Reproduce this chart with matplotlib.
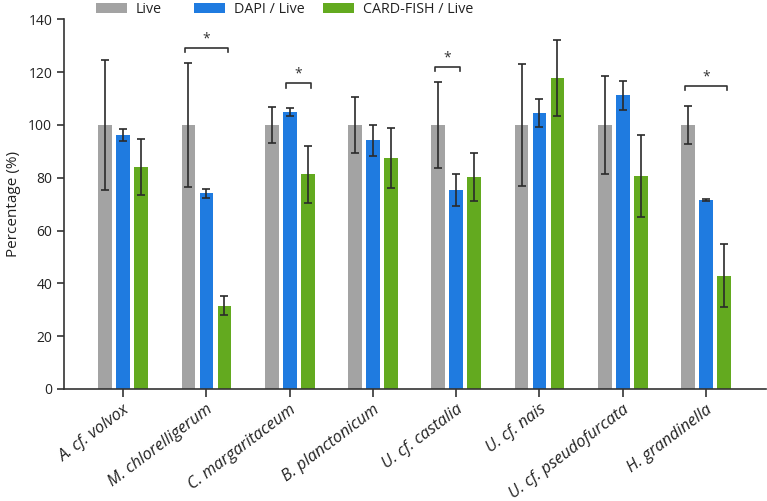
import matplotlib
matplotlib.use("Agg")
import matplotlib.pyplot as plt
import numpy as np

plt.rcParams['font.family'] = ['Open Sans', 'DejaVu Sans']

categories = ["A. cf. volvox", "M. chlorelligerum", "C. margaritaceum", "B. planctonicum",
              "U. cf. castalia", "U. cf. nais", "U. cf. pseudofurcata", "H. grandinella"]
series_names = ["Live", "DAPI / Live", "CARD-FISH / Live"]
live = [100, 100, 100, 100, 100, 100, 100, 100]
live_err = [24.7, 23.5, 7.0, 10.7, 16.2, 23.0, 18.6, 7.3]
dapi = [96.3, 74.1, 104.9, 94.2, 75.4, 104.4, 111.2, 71.6]
dapi_err = [2.2, 1.8, 1.6, 5.8, 5.9, 5.3, 5.4, 0.5]
fish = [84.0, 31.6, 81.4, 87.6, 80.4, 117.8, 80.8, 42.9]
fish_err = [10.7, 3.5, 10.8, 11.4, 9.0, 14.4, 15.6, 12.0]
# significance brackets: (group index, first series, second series, bracket height)
sig = [(1, 0, 2, 129.3), (2, 1, 2, 115.8), (4, 0, 1, 122.1), (7, 0, 2, 114.9)]
yticks = [0, 20, 40, 60, 80, 100, 120, 140]

colors = ['#a3a3a3', '#1f7be0', '#63aa1f']
W, H = 767, 501
fig = plt.figure(figsize=(W / 100, H / 100), dpi=100)
ax = fig.add_axes([64 / W, 1 - 389 / H, (766 - 64) / W, (389 - 19.4) / H])

x = np.arange(len(categories))
offs = [-0.216, 0.0, 0.216]
bw = 0.165
ekw = dict(ecolor='#2a2a2a', elinewidth=1.2, capthick=1.2)
handles = []
for vals, errs, off, c, name in zip([live, dapi, fish], [live_err, dapi_err, fish_err], offs, colors, series_names):
    b = ax.bar(x + off, vals, width=bw, color=c, yerr=errs, capsize=3, error_kw=ekw, label=name, zorder=2)
    handles.append(b)

for g, s1, s2, h in sig:
    x1 = g + offs[s1] - 0.04
    x2 = g + offs[s2] + 0.04
    ax.plot([x1, x1, x2, x2], [h - 1.8, h, h, h - 1.8], color='#333333', lw=1.2, zorder=3)
    ax.text((x1 + x2) / 2, h + 0.6, '*', ha='center', va='bottom', fontsize=10, color='#333333')

ax.set_xlim(-0.71, 7.72)
ax.set_ylim(0, 140)
ax.set_yticks(yticks)
ax.set_xticks(x)
ax.set_xticklabels(categories, rotation=37, ha='right', rotation_mode='anchor', fontstyle='italic', fontsize=11.8)
ax.tick_params(axis='y', labelsize=10, length=5, width=1.2, color='#333333', labelcolor='#222222')
ax.tick_params(axis='x', length=6, width=1.2, color='#333333', labelcolor='#222222', pad=3)
for s in ['top', 'right']:
    ax.spines[s].set_visible(False)
for s in ['left', 'bottom']:
    ax.spines[s].set_linewidth(1.2)
    ax.spines[s].set_color('#333333')
ax.set_ylabel('Percentage (%)', fontsize=11, color='#222222', labelpad=5)

leg_x = [95.7, 194, 322.7]
for hd, name, lx in zip(handles, series_names, leg_x):
    fig.legend([hd[0]], [name], loc='center left', bbox_to_anchor=(lx / W, 1 - 9.3 / H),
               frameon=False, borderpad=0, borderaxespad=0, handlelength=2.2, handleheight=0.7,
               handletextpad=0.6, fontsize=10.3, labelcolor='#222222')

fig.savefig('out.png', dpi=100)
